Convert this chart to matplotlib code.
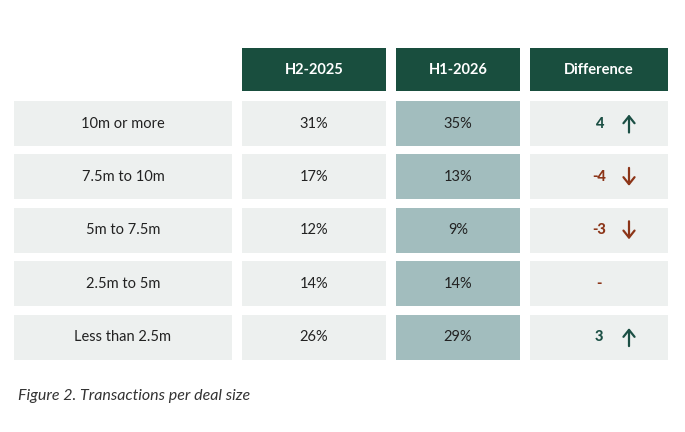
import matplotlib
matplotlib.use('Agg')
import matplotlib.pyplot as plt
from matplotlib.patches import Rectangle

categories = ['10m or more', '7.5m to 10m', '5m to 7.5m', '2.5m to 5m', 'Less than 2.5m']
h2_2025 = [31, 17, 12, 14, 26]
h1_2026 = [35, 13, 9, 14, 29]
headers = ['H2-2025', 'H1-2026', 'Difference']

DARK = '#194e3e'
LIGHT = '#edf0ef'
TEAL = '#a2bdbe'
UP = '#1b4f44'
DOWN = '#8c3518'

plt.rcParams['font.family'] = ['Lato', 'DejaVu Sans']

fig = plt.figure(figsize=(6.85, 4.32), dpi=100)
ax = fig.add_axes([0, 0, 1, 1])
ax.set_xlim(0, 685)
ax.set_ylim(432, 0)
ax.axis('off')

# column spans in pixels (x0, x1)
cols = [(14, 232), (242, 386), (396, 520), (530, 668)]
header_y = (48, 91)
row_top = 101
row_h = 45
row_step = 53.4


def box(x0, x1, y0, y1, color):
    ax.add_patch(Rectangle((x0, y0), x1 - x0, y1 - y0, facecolor=color, edgecolor='none'))


for (x0, x1), name in zip(cols[1:], headers):
    box(x0, x1, header_y[0], header_y[1], DARK)
    ax.text((x0 + x1) / 2, sum(header_y) / 2, name, ha='center', va='center',
            color='white', fontsize=10.5, fontweight='bold')

for i, cat in enumerate(categories):
    y0 = row_top + i * row_step
    y1 = y0 + row_h
    yc = (y0 + y1) / 2
    box(*cols[0], y0, y1, LIGHT)
    box(*cols[1], y0, y1, LIGHT)
    box(*cols[2], y0, y1, TEAL)
    box(*cols[3], y0, y1, LIGHT)
    ax.text(sum(cols[0]) / 2, yc, cat, ha='center', va='center', color='#222222', fontsize=10.5)
    ax.text(sum(cols[1]) / 2, yc, f'{h2_2025[i]}%', ha='center', va='center', color='#222222', fontsize=10.5)
    ax.text(sum(cols[2]) / 2, yc, f'{h1_2026[i]}%', ha='center', va='center', color='#222222', fontsize=10.5)

    diff = h1_2026[i] - h2_2025[i]
    dx = sum(cols[3]) / 2
    if diff == 0:
        ax.text(dx, yc, '-', ha='center', va='center', color=DOWN, fontsize=10.5, fontweight='black')
        continue
    color = UP if diff > 0 else DOWN
    ax.text(dx, yc, f'{diff}', ha='center', va='center', color=color, fontsize=10.5, fontweight='black')
    ax_x = dx + 30
    if diff > 0:
        start, end = (ax_x, yc + 9), (ax_x, yc - 9)
    else:
        start, end = (ax_x, yc - 9), (ax_x, yc + 9)
    ax.annotate('', xy=end, xytext=start,
                arrowprops=dict(arrowstyle='->,head_width=0.4,head_length=0.5',
                                color=color, lw=1.6, shrinkA=0, shrinkB=0))

ax.text(18, 396, 'Figure 2. Transactions per deal size', ha='left', va='center',
        color='#333333', fontsize=11.5, style='italic')

fig.savefig('out.png', dpi=100)
